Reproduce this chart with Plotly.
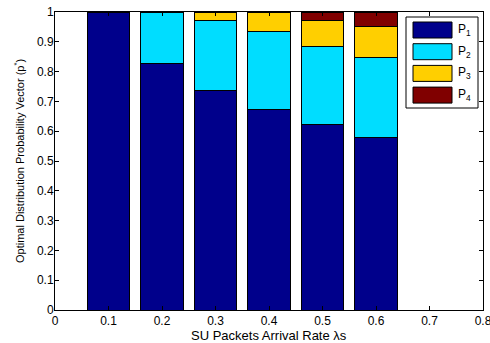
import plotly.graph_objects as go

rates = [0.1, 0.2, 0.3, 0.4, 0.5, 0.6]
p1 = [0.997, 0.828, 0.737, 0.673, 0.621, 0.579]
p2 = [0.003, 0.169, 0.236, 0.261, 0.263, 0.269]
p3 = [0.0, 0.003, 0.025, 0.066, 0.089, 0.105]
p4 = [0.0, 0.0, 0.002, 0.0, 0.027, 0.047]
names = ["P<sub>1</sub>", "P<sub>2</sub>", "P<sub>3</sub>", "P<sub>4</sub>"]
colors = ["#00008B", "#00DDFF", "#FFCF00", "#800000"]
series = [p1, p2, p3, p4]
xticks = [0, 0.1, 0.2, 0.3, 0.4, 0.5, 0.6, 0.7, 0.8]
yticks = [0, 0.1, 0.2, 0.3, 0.4, 0.5, 0.6, 0.7, 0.8, 0.9, 1]
xtitle = "SU Packets Arrival Rate λs"
ytitle = "Optimal Distribution Probability Vector (p<sup>*</sup>)"

FONT = "Liberation Sans, Arial, sans-serif"

fig = go.Figure()
for vals, name, col in zip(series, names, colors):
    fig.add_trace(go.Bar(
        x=rates, y=vals, name=name, width=0.08,
        marker=dict(color=col, line=dict(color="black", width=1)),
        showlegend=False,
    ))

W, H = 490, 343
ml, mr, mt, mb = 55, 7, 12, 33
pw, ph = W - ml - mr, H - mt - mb
def px(x):
    return (x - ml) / pw
def py(y):
    return (H - mb - y) / ph

# MATLAB-style legend box with large swatches
shapes = [dict(type="rect", xref="paper", yref="paper",
               x0=px(406), x1=px(478), y0=py(108), y1=py(17),
               line=dict(color="black", width=1), fillcolor="white", layer="above")]
annotations = []
for i, (name, col) in enumerate(zip(names, colors)):
    top = 22 + i * 21.7
    shapes.append(dict(type="rect", xref="paper", yref="paper",
                       x0=px(413), x1=px(452), y0=py(top + 16), y1=py(top),
                       line=dict(color="black", width=1), fillcolor=col, layer="above"))
    annotations.append(dict(xref="paper", yref="paper", x=px(456), y=py(top + 8),
                            text=name, showarrow=False, xanchor="left", yanchor="middle",
                            font=dict(family=FONT, size=12, color="black")))

# axis titles placed as annotations for exact position
annotations.append(dict(xref="paper", yref="paper", x=0.5, y=py(335),
                        text=xtitle, showarrow=False, xanchor="center", yanchor="middle",
                        font=dict(family=FONT, size=13, color="black")))
annotations.append(dict(xref="paper", yref="paper", x=px(19), y=0.5,
                        text=ytitle, showarrow=False, textangle=-90,
                        xanchor="center", yanchor="middle",
                        font=dict(family=FONT, size=11, color="black")))

fig.update_layout(
    barmode="stack",
    width=W, height=H,
    margin=dict(l=ml, r=mr, t=mt, b=mb, pad=0, autoexpand=False),
    paper_bgcolor="white", plot_bgcolor="white",
    font=dict(family=FONT, size=12, color="black"),
    shapes=shapes, annotations=annotations,
    xaxis=dict(range=[0, 0.8], tickvals=xticks, ticktext=[f"{v:g}" for v in xticks],
               ticks="inside", ticklen=4, tickcolor="black", showline=True, linecolor="black",
               linewidth=1, mirror="ticks", showgrid=False, zeroline=False, automargin=False,
               ticklabelstandoff=0, ticklabeloverflow="allow",
               tickfont=dict(size=12)),
    yaxis=dict(range=[0, 1], tickvals=yticks, ticktext=[f"{v:g}" for v in yticks],
               ticks="inside", ticklen=4, tickcolor="black", showline=True, linecolor="black",
               linewidth=1, mirror="ticks", showgrid=False, zeroline=False, automargin=False,
               ticklabeloverflow="allow", ticklabelstandoff=-2,
               tickfont=dict(size=12)),
)

fig.write_html("out.html")
